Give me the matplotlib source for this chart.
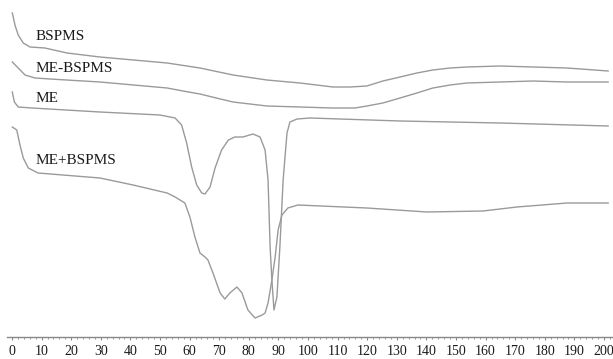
import numpy as np
import matplotlib
matplotlib.use('Agg')
import matplotlib.pyplot as plt
from matplotlib.ticker import MultipleLocator

plt.rcParams['font.family'] = ['Liberation Serif', 'DejaVu Serif']

# DSC traces, temperature (C) vs heat flow (arbitrary, endo down, offset per curve)
t_bspms = [0.1, 1.0, 2.1, 3.8, 6.1, 11.1, 18.6, 29.7, 52.4, 63.5, 74.7, 86.1, 97.3,
           108.4, 114.2, 119.9, 125.3, 131.1, 136.8, 142.2, 148.0, 153.7, 164.9,
           176.0, 187.5, 201.4]
hf_bspms = [32.4, 31.2, 30.2, 29.4, 29.0, 28.9, 28.4, 28.0, 27.4, 26.9, 26.2, 25.7, 25.4,
            25.0, 25.0, 25.1, 25.6, 26.0, 26.4, 26.7, 26.9, 27.0, 27.1,
            27.0, 26.9, 26.6]

t_mebspms = [0.1, 2.1, 4.4, 7.8, 12.8, 29.7, 52.4, 57.8, 63.5, 69.0, 74.7, 80.4,
             86.1, 97.3, 108.4, 115.9, 119.9, 125.3, 131.1, 136.8, 142.2, 148.0,
             153.7, 164.9, 176.0, 187.5, 201.4]
hf_mebspms = [27.5, 26.9, 26.2, 25.9, 25.8, 25.5, 24.9, 24.6, 24.3, 23.9, 23.5, 23.3,
              23.1, 23.0, 22.9, 22.9, 23.1, 23.4, 23.9, 24.4, 24.9, 25.2,
              25.4, 25.5, 25.6, 25.5, 25.5]

t_me = [0.1, 0.8, 2.1, 6.7, 29.7, 50.0, 55.1, 57.3, 59.0, 60.7, 62.4, 64.1, 65.2,
        66.9, 68.6, 70.8, 73.1, 75.3, 78.0, 81.4, 83.8, 85.5, 86.5, 87.2, 87.8,
        88.5, 89.5, 90.5, 91.6, 92.9, 93.9, 96.3, 100.7, 131.1, 164.9, 201.4]
hf_me = [24.5, 23.5, 23.0, 22.9, 22.5, 22.2, 21.9, 21.2, 19.4, 17.0, 15.2, 14.4, 14.3,
         15.0, 16.9, 18.7, 19.7, 20.0, 20.0, 20.3, 20.0, 18.7, 15.7, 9.0, 5.7,
         2.7, 4.0, 9.0, 15.7, 20.4, 21.5, 21.8, 21.9, 21.6, 21.4, 21.1]

t_mix = [0.1, 1.6, 2.7, 3.8, 5.5, 8.8, 29.7, 40.9, 52.4, 55.1, 58.4, 60.1, 61.8,
         63.5, 65.2, 66.2, 67.9, 70.3, 71.9, 73.6, 76.0, 77.7, 79.7, 82.1, 84.5,
         85.5, 86.5, 87.8, 88.9, 89.9, 91.2, 93.2, 96.6, 119.9, 140.2, 159.1,
         170.6, 187.5, 201.4]
hf_mix = [21.0, 20.7, 19.2, 17.9, 16.9, 16.4, 15.9, 15.2, 14.4, 14.0, 13.4, 12.0, 10.0,
          8.4, 8.0, 7.7, 6.4, 4.4, 3.8, 4.4, 5.0, 4.4, 2.7, 1.9, 2.2,
          2.4, 3.4, 5.7, 8.0, 10.7, 12.2, 12.9, 13.2, 12.9, 12.5, 12.6,
          13.0, 13.4, 13.4]

names = ['BSPMS', 'ME-BSPMS', 'ME', 'ME+BSPMS']
label_y = [30.1, 26.8, 23.8, 17.6]

fig = plt.figure(figsize=(6.13, 3.59), dpi=100)
ax = fig.add_axes([7/613, 22/359, 606/613, 337/359])

line_col = '#9a9a9a'
for t, hf in [(t_bspms, hf_bspms), (t_mebspms, hf_mebspms), (t_me, hf_me), (t_mix, hf_mix)]:
    ax.plot(t, hf, color=line_col, lw=1.0, solid_joinstyle='round')

for name, y in zip(names, label_y):
    ax.text(7.8, y, name, fontsize=11, color='#1a1a1a', va='center', ha='left')

ax.set_xlim(-1.69, 203.04)
ax.set_ylim(0, 33.7)

for s in ['top', 'left', 'right']:
    ax.spines[s].set_visible(False)
ax.spines['bottom'].set_color('#888888')
ax.spines['bottom'].set_linewidth(1.0)
ax.set_yticks([])
ax.xaxis.set_major_locator(MultipleLocator(10))
ax.xaxis.set_minor_locator(MultipleLocator(2))
ax.tick_params(axis='x', which='major', length=2.5, width=0.8, color='#888888',
               labelsize=10, labelcolor='#1a1a1a', pad=3.5)
ax.tick_params(axis='x', which='minor', length=1.5, width=0.6, color='#888888')

fig.savefig('out.png', dpi=100)
